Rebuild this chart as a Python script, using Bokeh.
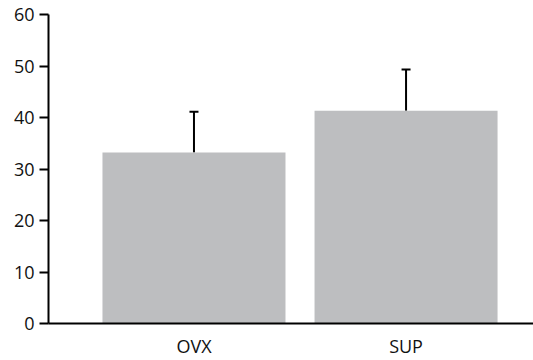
from bokeh.plotting import figure
from bokeh.models import ColumnDataSource, Range1d, FixedTicker, Whisker, TeeHead
from bokeh.embed import file_html
from bokeh.resources import INLINE

# Group means with upper error (SEM)
groups = ["OVX", "SUP"]
means = [33.2, 41.3]
errors = [7.9, 8.0]

positions = [1, 2]
upper = [m + e for m, e in zip(means, errors)]

src = ColumnDataSource(dict(x=positions, top=means, upper=upper))

p = figure(width=533, height=360, output_backend="svg", toolbar_location=None,
           x_range=Range1d(0.314, 2.601), y_range=Range1d(0, 60),
           min_border_left=48, min_border_right=0, min_border_top=14,
           min_border_bottom=37)

p.vbar(x="x", top="top", width=0.863, source=src, color="#bdbec0", line_color=None)

whisker = Whisker(base="x", lower="top", upper="upper", source=src,
                  line_color="black", line_width=2,
                  upper_head=TeeHead(size=9, line_color="black", line_width=2),
                  lower_head=None)
p.add_layout(whisker)

p.grid.visible = False
p.outline_line_color = None
p.background_fill_color = "white"
p.border_fill_color = "white"

font = "Open Sans"
for ax in (p.xaxis[0], p.yaxis[0]):
    ax.axis_line_color = "black"
    ax.axis_line_width = 2
    ax.major_tick_line_width = 2
    ax.major_tick_line_color = "black"
    ax.minor_tick_line_color = None
    ax.major_label_text_font = font
    ax.major_label_text_font_size = "18px"
    ax.major_label_text_color = "#111111"

p.xaxis.ticker = FixedTicker(ticks=positions)
p.xaxis.major_label_overrides = {pos: g for pos, g in zip(positions, groups)}
p.xaxis.major_tick_out = 0
p.xaxis.major_tick_in = 0
p.xaxis.major_label_standoff = 10

p.yaxis.ticker = FixedTicker(ticks=[0, 10, 20, 30, 40, 50, 60])
p.yaxis.major_tick_out = 9
p.yaxis.major_tick_in = 0
p.yaxis.major_label_standoff = 5

open("out.html", "w").write(file_html(p, INLINE))
